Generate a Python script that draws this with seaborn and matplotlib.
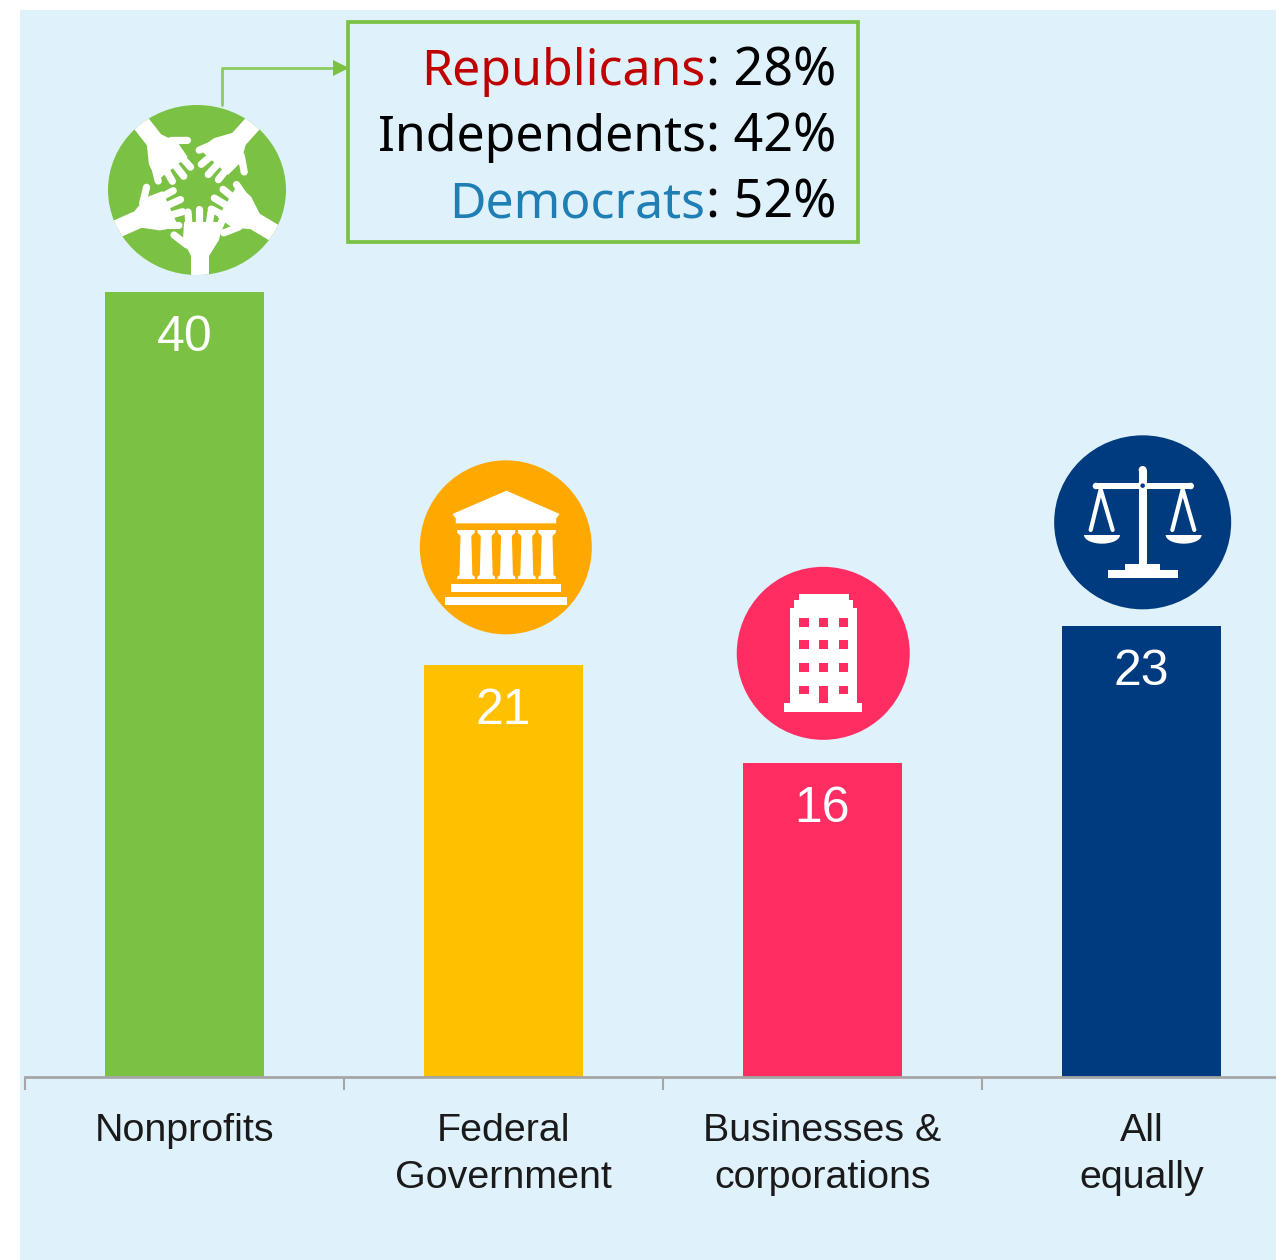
import numpy as np
import matplotlib
matplotlib.use("Agg")
import matplotlib.pyplot as plt
from matplotlib.patches import Rectangle, Ellipse, Polygon
import seaborn as sns

W, H = 1276, 1260

categories = ["Nonprofits", "Federal\nGovernment", "Businesses &\ncorporations", "All\nequally"]
values = [40, 21, 16, 23]
bar_colors = ["#7BC143", "#FFC000", "#FF2D62", "#003B7F"]

party_names = ["Republicans", "Independents", "Democrats"]
party_values = [28, 42, 52]
party_colors = ["#C00000", "#000000", "#1F7FB5"]

GREEN = "#7BC143"
AMBER = "#FFA800"
PINK = "#FF2D62"
NAVY = "#003B7F"
PANEL = "#DFF1FB"
AXIS = "#A6A6A6"
FONT = "Liberation Sans"
BOX_FONT = "Noto Sans"

sns.set_theme(style="white")
plt.rcParams["font.family"] = [FONT, "DejaVu Sans"]

fig = plt.figure(figsize=(W / 100, H / 100), dpi=100, facecolor="white")
fig.add_artist(Rectangle((20 / W, 0), (W - 20) / W, (H - 10) / H, transform=fig.transFigure,
                         facecolor=PANEL, edgecolor="none", zorder=-1))

# -------------------------------
# Bars
# -------------------------------
ax = fig.add_axes([25 / W, (H - 1077) / H, (W - 25) / W, 1067 / H], facecolor="none")
sns.barplot(x=categories, y=values, hue=categories, palette=bar_colors, width=0.5,
            saturation=1, legend=False, dodge=False, linewidth=0, ax=ax)
ax.set_xlim(-0.5, -0.5 + (W - 25) / 319)
ax.set_ylim(0, 1067 / 19.62)

for i, v in enumerate(values):
    ax.text(i, v - 2.1, str(v), color="white", fontsize=36, ha="center", va="center_baseline")

for side in ["top", "left", "right"]:
    ax.spines[side].set_visible(False)
ax.spines["bottom"].set_color(AXIS)
ax.spines["bottom"].set_linewidth(2)
ax.set_yticks([])
ax.set_xticks(range(len(categories)))
ax.set_xticklabels(categories, fontsize=28.4, color="#1A1A1A", linespacing=1.38)
ax.set_xticks([-0.5, 0.5, 1.5, 2.5], minor=True)
ax.tick_params(axis="x", which="major", length=0, pad=26)
ax.tick_params(axis="x", which="minor", length=9, width=1.5, color=AXIS, bottom=True)

# -------------------------------
# Overlay in pixel coordinates
# -------------------------------
ov = fig.add_axes([0, 0, 1, 1], facecolor="none")
ov.set_xlim(0, W)
ov.set_ylim(H, 0)
ov.axis("off")


def rect(x0, y0, x1, y1, color="white", z=3):
    ov.add_patch(Rectangle((x0, y0), x1 - x0, y1 - y0, facecolor=color, edgecolor="none", zorder=z))


# hands icon
cx, cy = 197, 190
disc = Ellipse((cx, cy), 178, 170, facecolor=GREEN, edgecolor="none", zorder=2)
ov.add_patch(disc)


def hand(angle, shift=3):
    d = np.array([np.cos(np.radians(angle)), -np.sin(np.radians(angle))])
    p = np.array([d[1], -d[0]])
    to_xy = lambda u, v: np.array([cx, cy]) + (u + shift) * p + v * d
    outline = [(-9, 100), (9, 100), (9, 66), (19, 50), (23, 32), (-16, 32), (-17, 50), (-9, 66)]
    poly = Polygon([to_xy(u, v) for u, v in outline], facecolor="white", edgecolor="none", zorder=3)
    ov.add_patch(poly)
    poly.set_clip_path(disc)
    fingers = [((-11, 36), (-12, 22)), ((-1, 36), (-1, 19)), ((9, 36), (11, 22)), ((18, 40), (22, 31)),
               ((-13, 55), (-26, 45))]
    for (u0, v0), (u1, v1) in fingers:
        a, b = to_xy(u0, v0), to_xy(u1, v1)
        ov.plot([a[0], b[0]], [a[1], b[1]], color="white", lw=5.2, solid_capstyle="round", zorder=3)


for ang in [-90, -31, 48, 128, 204]:
    hand(ang)

# callout
ov.plot([222, 222, 340], [105, 68, 68], color="#8CCB5E", lw=2, zorder=1)
ov.add_patch(Polygon([(333, 60), (349, 68), (333, 76)], facecolor=GREEN, edgecolor="none", zorder=3))
ov.add_patch(Rectangle((348, 22), 510, 220, facecolor=PANEL, edgecolor=GREEN, lw=2.7, zorder=2))

fig.canvas.draw()
renderer = fig.canvas.get_renderer()
for name, val, col, y in zip(party_names, party_values, party_colors, [72, 138, 204]):
    tail = ov.text(836, y, f": {val}%", color="black", fontsize=37.5, family=BOX_FONT,
                   ha="right", va="center", zorder=4)
    left = tail.get_window_extent(renderer).x0
    ov.text(left, y, name, color=col, fontsize=36, family=BOX_FONT, ha="right", va="center", zorder=4)

# temple icon
ZX = lambda v: 400 + v / 2.958
ZY = lambda v: 440 + v / 3
ov.add_patch(Ellipse((ZX(313), ZY(322)), 172, 174, facecolor=AMBER, edgecolor="none", zorder=2))
roof = [(315, 152), (472, 222), (462, 235), (462, 250), (165, 250), (165, 235), (155, 222)]
ov.add_patch(Polygon([(ZX(a), ZY(b)) for a, b in roof], facecolor="white", edgecolor="none", zorder=3))
column = [(-26, 270), (26, 270), (26, 278), (16, 288), (19, 405), (26, 410), (26, 417),
          (-26, 417), (-26, 410), (-19, 405), (-16, 288), (-26, 278)]
for c in [195, 255, 315, 375, 435]:
    ov.add_patch(Polygon([(ZX(c + a), ZY(b)) for a, b in column], facecolor="white", edgecolor="none", zorder=3))
rect(ZX(150), ZY(433), ZX(477), ZY(455))
rect(ZX(133), ZY(472), ZX(493), ZY(494))

# building icon
ov.add_patch(Ellipse((ZX(1252), ZY(640)), 173, 173, facecolor=PINK, edgecolor="none", zorder=2))
rect(ZX(1137), ZY(788), ZX(1368), ZY(817))
rect(ZX(1153), ZY(505), ZX(1352), ZY(788))
rect(ZX(1165), ZY(480), ZX(1340), ZY(505))
rect(ZX(1180), ZY(462), ZX(1328), ZY(480))
for r0, r1 in [(533, 560), (600, 628), (670, 696), (738, 763)]:
    for c0, c1 in [(1181, 1209), (1240, 1267), (1298, 1325)]:
        bottom = 788 if (r0 == 738 and c0 == 1240) else r1
        rect(ZX(c0), ZY(r0), ZX(c1), ZY(bottom), color=PINK, z=4)

# scales icon
SX = lambda v: 1040 + v / 3
SY = lambda v: 420 + v / 3
ov.add_patch(Ellipse((SX(308), SY(307)), 177, 174, facecolor=NAVY, edgecolor="none", zorder=2))
rect(SX(297), SY(150), SX(320), SY(435))
ov.add_patch(Ellipse((SX(308), SY(150)), 8, 8, facecolor="white", edgecolor="none", zorder=3))
rect(SX(168), SY(188), SX(452), SY(208))
for c in [168, 452]:
    ov.add_patch(Ellipse((SX(c), SY(198)), 6.6, 6.6, facecolor="white", edgecolor="none", zorder=3))
ov.add_patch(Ellipse((SX(308), SY(197)), 10, 10, facecolor="white", edgecolor="none", zorder=3))
ov.add_patch(Ellipse((SX(308), SY(197)), 4.5, 4.5, facecolor=NAVY, edgecolor="none", zorder=4))
for top, l, r in [(182, 152, 218), (428, 397, 463)]:
    ov.plot([SX(l), SX(top), SX(r)], [SY(330), SY(208), SY(330)], color="white", lw=3, zorder=3)
theta = np.linspace(0, np.pi, 30)
for c in [186, 431]:
    ov.add_patch(Polygon(np.column_stack([SX(c + 54 * np.cos(theta)), SY(345 + 26 * np.sin(theta))]),
                         facecolor="white", edgecolor="none", zorder=3))
rect(SX(255), SY(433), SX(360), SY(450))
rect(SX(203), SY(450), SX(413), SY(473))

fig.savefig("out.png", dpi=100, facecolor="white")
